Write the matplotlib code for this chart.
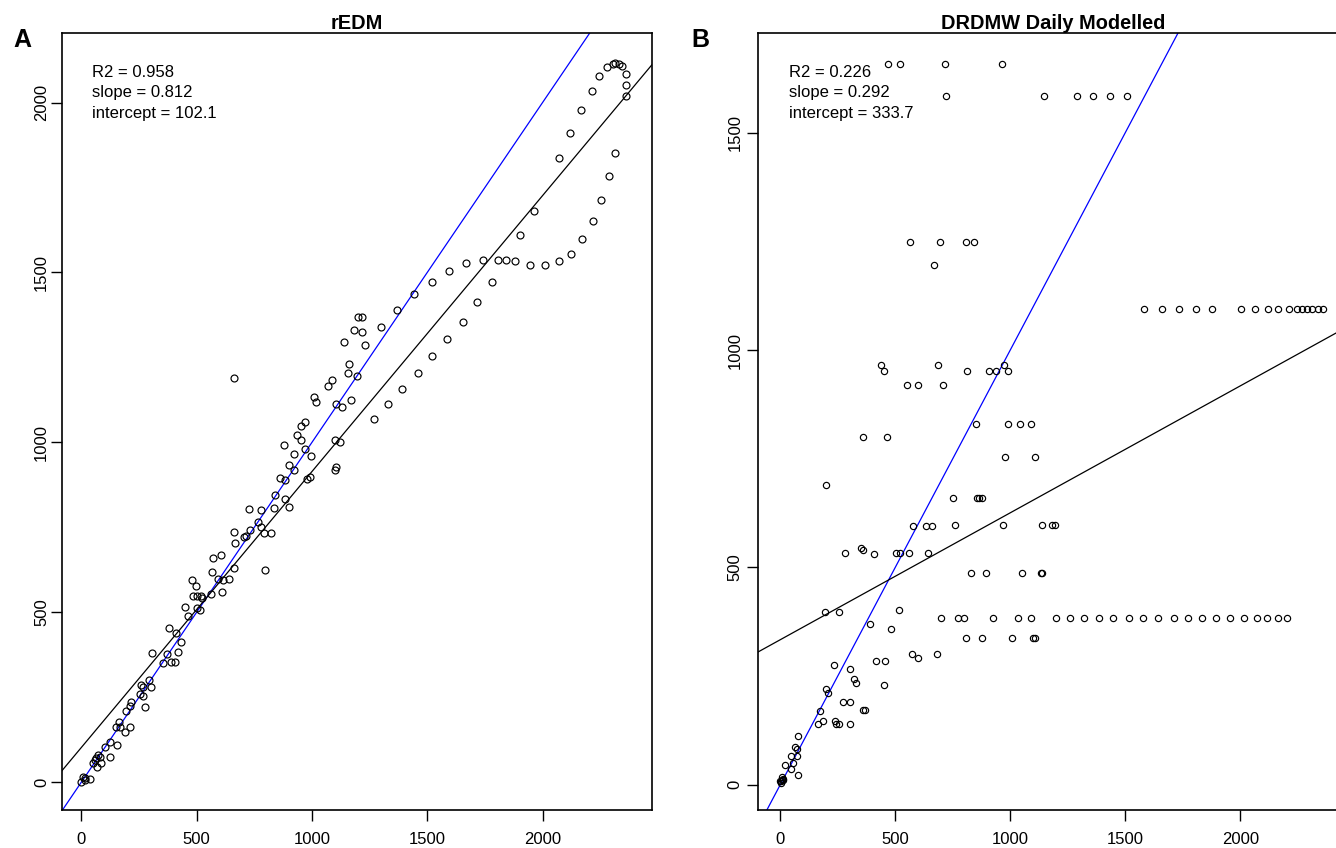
import matplotlib.pyplot as plt

plt.rcParams['font.family'] = ['Liberation Sans', 'DejaVu Sans']

# Panel A: rEDM (x, y pairs)
redm_x = [2316, 2333, 2307, 2346, 2281, 2246, 2216, 2168, 2120, 2073, 1964, 1904, 2363, 2363, 2363,
          2316, 2290, 2255, 2220, 2173, 2125, 2073, 2011, 1944, 1882, 1843, 1808, 1742, 1667, 1593,
          1519, 1444, 1370, 1300, 1782, 1714, 1654, 1586, 1519, 1459, 1391, 1330, 1269,
          660, 1070, 1085, 1010, 1018, 1106, 1130, 1168, 971, 951, 934, 951, 877, 971, 997, 924,
          902, 924, 863, 885, 977, 993, 1101, 1122, 1100, 1104,
          1201, 1219, 1182, 1215, 1141, 1229, 1162, 1158, 1195,
          841, 885, 899, 728, 781, 837, 765, 779, 794, 821, 660, 668, 714, 707, 731, 797, 572, 606,
          567, 594, 613, 639, 660, 608, 562, 523, 515, 480, 495, 484, 502, 517,
          503, 451, 464, 382, 412, 431, 419, 307, 370, 354, 390, 405, 257, 266, 294, 300, 253, 266,
          278, 217, 210, 192, 162, 166, 152, 188, 211, 123, 101, 155, 72, 62, 79, 58, 51, 87, 123,
          69, 7, 14, 0, 36, 17]
redm_y = [2118, 2115, 2115, 2109, 2106, 2077, 2035, 1979, 1912, 1838, 1682, 1611, 2085, 2053, 2018,
          1853, 1785, 1714, 1652, 1599, 1555, 1533, 1523, 1523, 1533, 1537, 1537, 1537, 1528, 1505,
          1473, 1436, 1390, 1340, 1473, 1414, 1354, 1304, 1254, 1204, 1158, 1112, 1070,
          1190, 1165, 1183, 1133, 1120, 1112, 1105, 1125, 1061, 1047, 1022, 1007, 993, 981, 961, 966,
          934, 919, 896, 890, 892, 897, 1006, 1002, 919, 927,
          1368, 1368, 1331, 1326, 1295, 1286, 1231, 1204, 1194,
          846, 833, 810, 805, 801, 807, 765, 752, 733, 733, 736, 705, 725, 721, 742, 623, 659, 669,
          618, 597, 595, 597, 629, 560, 554, 541, 507, 595, 576, 549, 549, 549,
          512, 516, 490, 454, 438, 411, 384, 381, 376, 350, 353, 353, 286, 279, 302, 279, 259, 253,
          220, 235, 224, 208, 176, 163, 161, 148, 161, 119, 104, 110, 80, 72, 73, 65, 55, 57, 75,
          45, 16, 6, 1, 10, 11]

# Panel B: DRDMW Daily Modelled
drdmw_x = [470, 519, 716, 964,
           722, 1145, 1289, 1362, 1436, 1510,
           565, 693, 809, 842, 667,
           1583, 1658, 1732, 1807, 1876, 2003, 2065, 2120, 2166, 2213, 2249, 2270, 2292, 2314, 2340, 2360,
           440, 450, 687, 975, 813, 908, 940, 991,
           551, 600, 708,
           853, 991, 1044, 1092,
           362, 464, 976, 1106, 200,
           753, 855, 866, 876,
           578, 632, 659, 762, 970, 1138, 1183, 1196,
           282, 350, 360, 409, 502, 522, 560, 641,
           829, 894, 1051, 1135, 1140,
           699, 772, 797, 926, 1035, 1090, 1200, 1262, 1323, 1388, 1449, 1515, 1576, 1644, 1714,
           1774, 1836, 1894, 1957, 2017, 2072, 2118, 2166, 2205,
           806, 879, 1008, 1101, 1106,
           194, 255, 518, 390, 483, 573, 599, 680, 415, 456, 234, 302, 321, 328, 450, 198, 208,
           273, 302, 361, 367, 174, 165, 188, 237, 242, 256, 302, 78, 64, 71, 49, 75, 20, 56, 49,
           78, 6, -1, 3, 13, 5, 8, 10]
drdmw_y = [1659, 1659, 1659, 1659,
           1585, 1585, 1585, 1585, 1585, 1585,
           1249, 1249, 1249, 1249, 1195,
           1094, 1094, 1094, 1094, 1094, 1094, 1094, 1094, 1094, 1094, 1094, 1094, 1094, 1094, 1094, 1094,
           966, 953, 966, 966, 953, 953, 953, 953,
           920, 920, 920,
           830, 830, 830, 830,
           801, 801, 755, 755, 690,
           659, 659, 659, 659,
           596, 596, 596, 598, 598, 598, 598, 598,
           533, 545, 541, 530, 533, 533, 533, 533,
           487, 487, 487, 487, 487,
           383, 383, 383, 383, 383, 383, 383, 383, 383, 383, 383, 383, 383, 383, 383,
           383, 383, 383, 383, 383, 383, 383, 383, 383,
           337, 337, 337, 337, 337,
           398, 398, 402, 370, 358, 302, 291, 302, 284, 284, 276, 266, 243, 235, 230, 220, 212,
           191, 191, 173, 173, 170, 141, 147, 147, 141, 141, 141, 113, 88, 82, 67, 67, 46, 51, 36,
           23, 17, 9, 5, 13, 8, 12, 10]

panel_titles = ['rEDM', 'DRDMW Daily Modelled']
panel_letters = ['A', 'B']
r2_values = [0.958, 0.226]
slopes = [0.812, 0.292]
intercepts = [102.1, 333.7]
x_ticks = [0, 500, 1000, 1500, 2000]
y_ticks = [[0, 500, 1000, 1500, 2000], [0, 500, 1000, 1500]]

W, H = 1336, 848
fig = plt.figure(figsize=(W / 100, H / 100), dpi=100)


def px_axes(left, top, right, bottom):
    return fig.add_axes([left / W, 1 - bottom / H, (right - left) / W, (bottom - top) / H])


ax_a = px_axes(62, 33.3, 651.8, 810)
ax_b = px_axes(757.9, 33.3, 1347.6, 810)

panels = [
    (ax_a, redm_x, redm_y, (-84, 2474), (-82, 2204), 5.0, 92, 13, 1.5),
    (ax_b, drdmw_x, drdmw_y, (-97, 2467), (-58, 1729), 4.5, 789, 691, 3.5),
]

for i, (ax, xs, ys, xlim, ylim, ms, text_x, letter_x, ypad) in enumerate(panels):
    ax.plot(xs, ys, 'o', ls='none', mfc='none', mec='black', ms=ms, mew=0.85, zorder=3)
    ax.axline((0, 0), slope=1, color='#0000ff', lw=0.9, zorder=2)
    ax.axline((0, intercepts[i]), slope=slopes[i], color='black', lw=0.9, zorder=2)
    ax.set_xlim(*xlim)
    ax.set_ylim(*ylim)
    ax.set_xticks(x_ticks)
    ax.set_yticks(y_ticks[i])
    ax.tick_params(axis='both', direction='out', length=7.7, width=1.0, labelsize=12,
                   colors='black')
    ax.tick_params(axis='x', pad=8.5)
    ax.tick_params(axis='y', pad=ypad, labelrotation=90)
    for lab in ax.get_yticklabels():
        lab.set_va('center')
    for sp in ax.spines.values():
        sp.set_linewidth(1.2)
        sp.set_color('black')
    ax.set_title(panel_titles[i], fontsize=14.4, fontweight='bold', pad=2)

    # fit stats in the top-left corner
    lines = ['R2 = %.3f' % r2_values[i], 'slope = %.3f' % slopes[i],
             'intercept = %.1f' % intercepts[i]]
    for k, (s, base) in enumerate(zip(lines, [77, 97.5, 118])):
        fig.text(text_x / W, 1 - base / H, s, fontsize=12, va='baseline', ha='left')

    fig.text(letter_x / W, 1 - 47 / H, panel_letters[i], fontsize=18, fontweight='bold',
             va='baseline', ha='left')

fig.savefig('out.png', dpi=100)
